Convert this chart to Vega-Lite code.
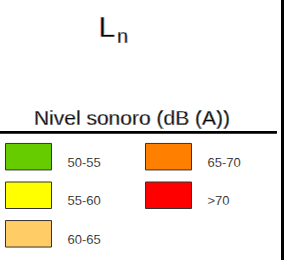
{
  "$schema": "https://vega.github.io/schema/vega-lite/v6.json",
  "width": 286,
  "height": 260,
  "padding": 0,
  "autosize": {"type": "none"},
  "background": "white",
  "config": {"view": {"stroke": null}, "axis": null, "font": "Liberation Sans", "text": {"fontWeight": 400, "font": "Liberation Sans"}},
  "data": {
    "values": [
      {"label": "50-55", "col": 0, "row": 0},
      {"label": "55-60", "col": 0, "row": 1},
      {"label": "60-65", "col": 0, "row": 2},
      {"label": "65-70", "col": 1, "row": 0},
      {"label": ">70", "col": 1, "row": 1}
    ]
  },
  "layer": [
    {
      "mark": {"type": "rect", "width": 46, "height": 26.5, "stroke": "#333333", "strokeWidth": 1},
      "encoding": {
        "x": {"field": "col", "type": "quantitative", "scale": {"domain": [-0.20357, 1.83929], "nice": false, "zero": false}, "axis": null},
        "y": {"field": "row", "type": "quantitative", "scale": {"domain": [-4.0649, 2.6796], "nice": false, "zero": false, "reverse": true}, "axis": null},
        "color": {"field": "label", "type": "nominal", "scale": {"domain": ["50-55", "55-60", "60-65", "65-70", ">70"], "range": ["#66CC00", "#FFFF00", "#FFCC66", "#FF8000", "#FF0000"]}, "legend": null}
      }
    },
    {
      "mark": {"type": "text", "align": "left", "baseline": "alphabetic", "dx": 39, "dy": 10, "fontSize": 13, "color": "#000000", "stroke": "#ffffff", "strokeWidth": 0.2},
      "encoding": {
        "x": {"field": "col", "type": "quantitative"},
        "y": {"field": "row", "type": "quantitative"},
        "text": {"field": "label"}
      }
    },
    {
      "mark": {"type": "text", "align": "left", "baseline": "alphabetic", "fontSize": 30, "color": "#000000", "stroke": "#ffffff", "strokeWidth": 0.35},
      "encoding": {
        "x": {"datum": 0.5, "type": "quantitative"},
        "y": {"datum": -3.097, "type": "quantitative"},
        "text": {"value": "L"}
      }
    },
    {
      "mark": {"type": "text", "align": "left", "baseline": "alphabetic", "fontSize": 20, "color": "#000000", "stroke": "#ffffff", "strokeWidth": 0.3},
      "encoding": {
        "x": {"datum": 0.632, "type": "quantitative"},
        "y": {"datum": -2.942, "type": "quantitative"},
        "text": {"value": "n"}
      }
    },
    {
      "mark": {"type": "text", "align": "center", "baseline": "alphabetic", "fontSize": 21, "color": "#000000", "stroke": "#ffffff", "strokeWidth": 0.3},
      "encoding": {
        "x": {"datum": 0.739, "type": "quantitative"},
        "y": {"datum": -0.8145, "type": "quantitative"},
        "text": {"value": "Nivel sonoro (dB (A))"}
      }
    },
    {
      "mark": {"type": "rule", "color": "#000000", "strokeWidth": 2},
      "encoding": {
        "x": {"datum": -0.20357, "type": "quantitative"},
        "x2": {"datum": 1.773},
        "y": {"datum": -0.6355, "type": "quantitative"}
      }
    },
    {
      "mark": {"type": "rule", "color": "#000000", "strokeWidth": 2.5},
      "encoding": {
        "x": {"datum": 1.814, "type": "quantitative"}
      }
    }
  ]
}
